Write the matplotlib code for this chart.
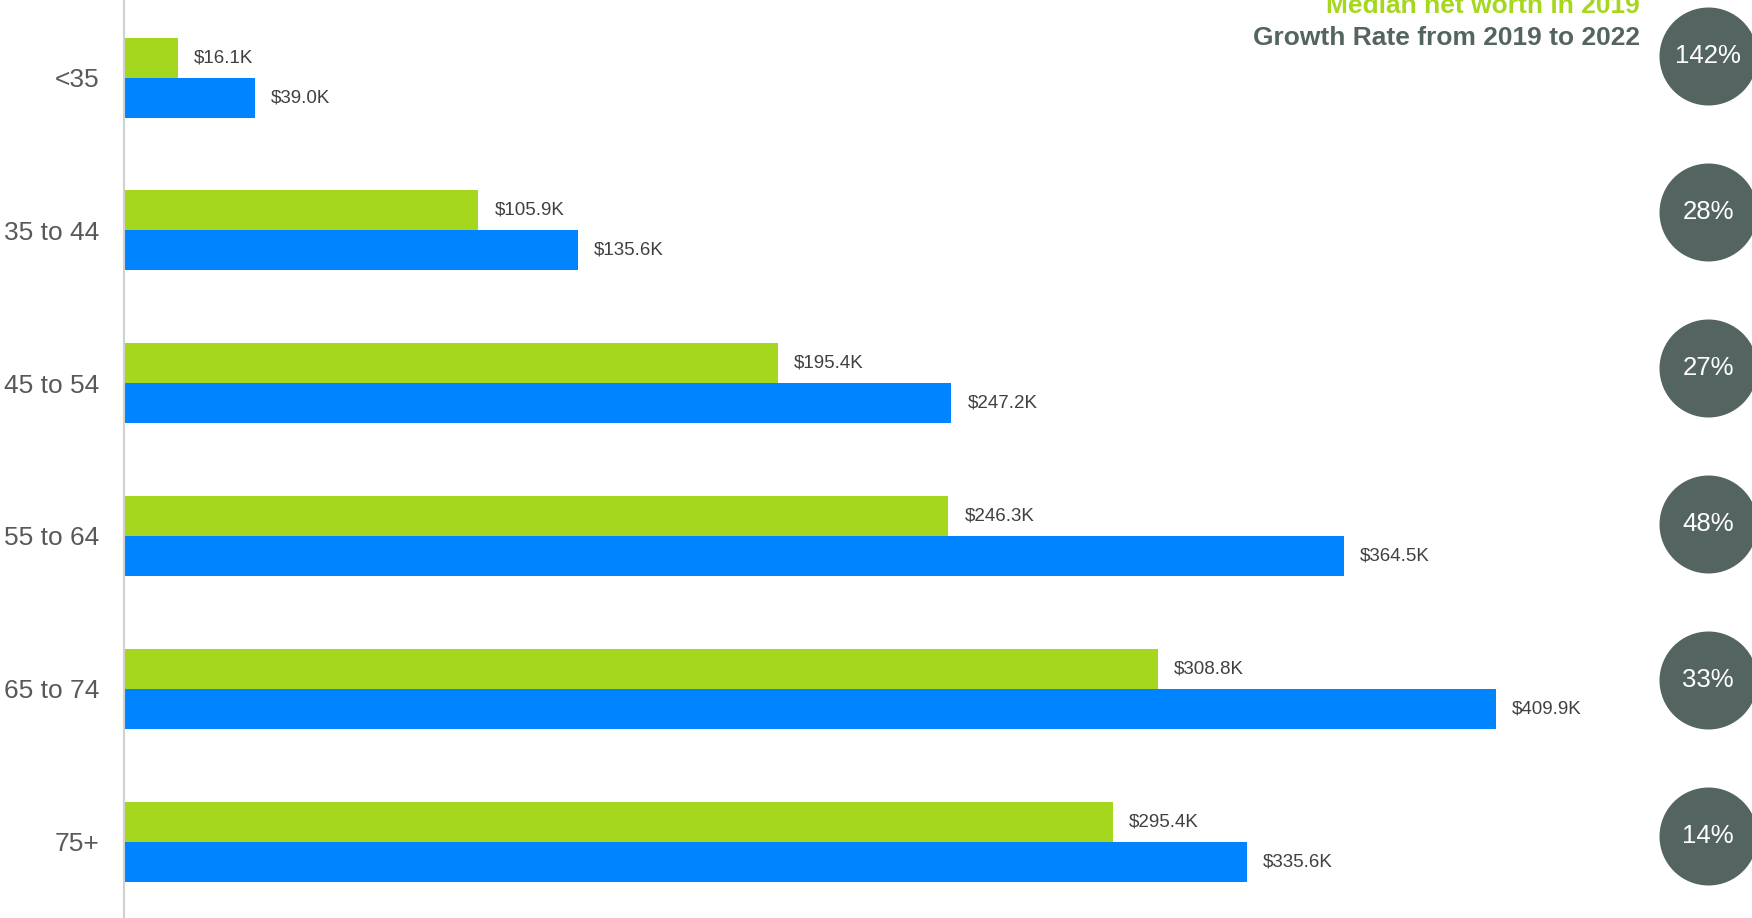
import matplotlib
matplotlib.use("Agg")
import matplotlib.pyplot as plt
import numpy as np

plt.rcParams["font.family"] = ["Liberation Sans", "DejaVu Sans"]

# median net worth by age of head of household, $K
ages = ["<35", "35 to 44", "45 to 54", "55 to 64", "65 to 74", "75+"]
worth_2019 = [16.1, 105.9, 195.4, 246.3, 308.8, 295.4]
worth_2022 = [39.0, 135.6, 247.2, 364.5, 409.9, 335.6]
growth_pct = [142, 28, 27, 48, 33, 14]

GREEN = "#a5d71e"
BLUE = "#0084ff"
SLATE = "#546461"

W, H = 1752, 918
fig = plt.figure(figsize=(W / 100, H / 100), dpi=100)

# bar panel: left spine at x=124 px, groups every ~152.8 px from 77.5 px
x0 = 124
px_per_k = 3.347
step = 152.8
first = 77.5
ax = fig.add_axes([x0 / W, 0, 1 - x0 / W, 1])
ax.set_xlim(0, (W - x0) / px_per_k)
ax.set_ylim((H - first) / step, -first / step)

y = np.arange(len(ages))
bh = 40 / step
ax.barh(y - bh / 2, worth_2019, height=bh, color=GREEN)
ax.barh(y + bh / 2, worth_2022, height=bh, color=BLUE)

lab_off = 16 / px_per_k
for yi, a, b in zip(y, worth_2019, worth_2022):
    ax.text(a + lab_off, yi - bh / 2, f"${a:.1f}K", va="center", ha="left",
            fontsize=13.5, color="#404040")
    ax.text(b + lab_off, yi + bh / 2, f"${b:.1f}K", va="center", ha="left",
            fontsize=13.5, color="#404040")

ax.set_yticks(y)
ax.set_yticklabels(ages, fontsize=19, color="#595959")
ax.tick_params(axis="y", length=0, pad=18)
ax.set_xticks([])
for s in ["top", "right", "bottom"]:
    ax.spines[s].set_visible(False)
ax.spines["left"].set_color("#d0d0d0")
ax.spines["left"].set_linewidth(1.5)

# growth-rate column of circles, centred at x=1708 px, every 156 px from 56 px
gx = fig.add_axes([0, 0, 1, 1])
gx.set_xlim(0, W)
c_step, c_first = 156, 56
gx.set_ylim((H - c_first) / c_step, -c_first / c_step)
gx.axis("off")
r_pt = 49 * 0.72
gx.scatter([1708] * len(growth_pct), np.arange(len(growth_pct)),
           s=(2 * r_pt) ** 2, color=SLATE, linewidths=0, clip_on=False)
for i, g in enumerate(growth_pct):
    gx.text(1708, i, f"{g}%", ha="center", va="center", fontsize=18.5,
            color="white")

fig.text(1640 / W, 1 - 13 / H, "Median net worth in 2019", ha="right",
         va="baseline", fontsize=19, fontweight="bold", color=GREEN)
fig.text(1640 / W, 1 - 45 / H, "Growth Rate from 2019 to 2022", ha="right",
         va="baseline", fontsize=19, fontweight="bold", color=SLATE)

fig.savefig("out.png", dpi=100)
